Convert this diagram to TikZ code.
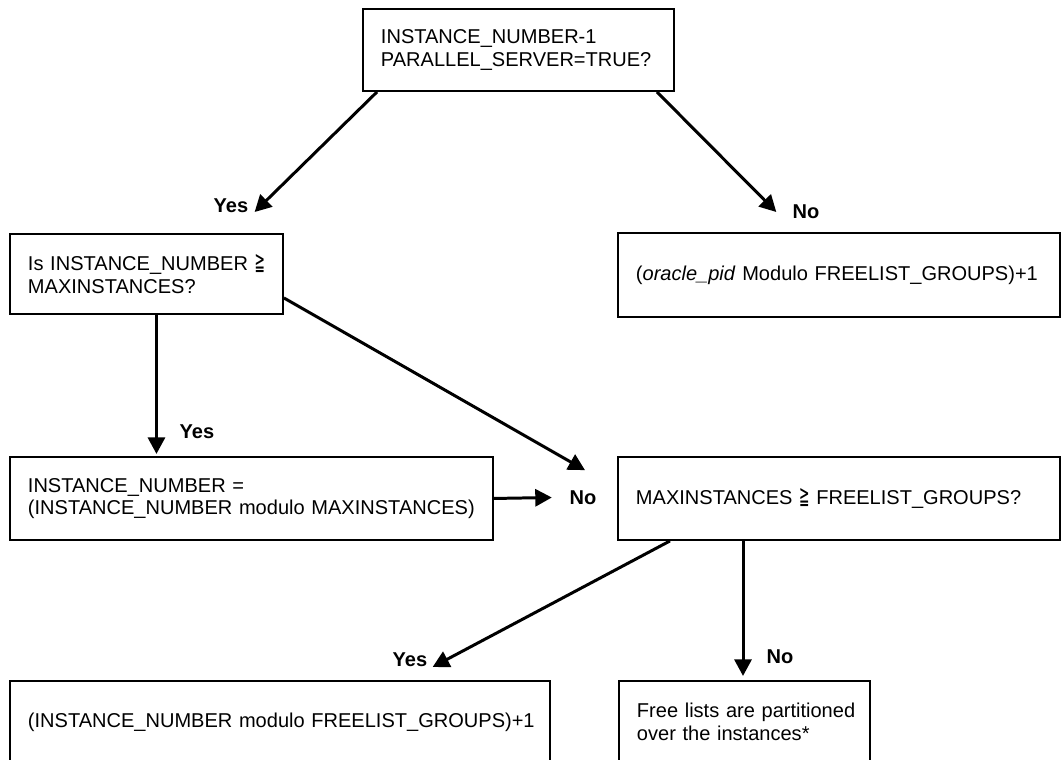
\documentclass[tikz,border=0pt]{standalone}
\usepackage{fontspec}
\setmainfont{Liberation Sans}
\newfontfamily\geqfont{DejaVu Sans}
\usetikzlibrary{arrows.meta}
\hyphenpenalty=10000
\newcommand{\boxfont}{\fontsize{11.4pt}{12.8pt}\selectfont}
\newcommand{\geqsign}{\scalebox{0.62}[1.25]{\geqfont ≧}}

\begin{document}
\begin{tikzpicture}[
    box/.style={draw, line width=1.1pt, anchor=north west, inner xsep=0.36cm,
        inner ysep=0pt, align=left, font=\boxfont},
    lbl/.style={font=\boxfont\bfseries, inner sep=0pt},
    arr/.style={line width=1.7pt, -{Triangle[length=0.33cm, width=0.34cm]}}
]
    \useasboundingbox (0,0) rectangle (21.28,15.18);
    \clip (0,0) rectangle (21.28,15.18);

    % boxes
    \node[box, text width=5.5cm, minimum height=1.64cm] (qparallel) at (7.24,15.02)
        {INSTANCE\_NUMBER-1\\PARALLEL\_SERVER=TRUE?};
    \node[box, text width=4.74cm, minimum height=1.6cm] (qmaxinst) at (0.18,10.52)
        {Is~INSTANCE\_NUMBER~\geqsign\\MAXINSTANCES?};
    \node[box, text width=8.12cm, minimum height=1.68cm] (oraclepid) at (12.34,10.54)
        {(\textit{oracle\_pid} Modulo FREELIST\_GROUPS)+1};
    \node[box, text width=8.94cm, minimum height=1.66cm] (setinst) at (0.18,6.06)
        {INSTANCE\_NUMBER =\\(INSTANCE\_NUMBER~modulo~MAXINSTANCES)};
    \node[box, text width=8.12cm, minimum height=1.66cm] (qgroups) at (12.34,6.06)
        {MAXINSTANCES \geqsign{} FREELIST\_GROUPS?};
    \node[box, text width=10.08cm, minimum height=1.64cm] (modgroups) at (0.18,1.58)
        {(INSTANCE\_NUMBER~modulo~FREELIST\_GROUPS)+1};
    \node[box, text width=4.3cm, minimum height=1.64cm] (partition) at (12.36,1.58)
        {Free~lists~are~partitioned\\over the instances*};

    % yes / no labels
    \node[lbl] (yesa) at (4.62,11.06) {Yes};
    \node[lbl] (noa) at (16.12,10.94) {No};
    \node[lbl] (yesb) at (3.94,6.54) {Yes};
    \node[lbl] (noc) at (11.66,5.23) {No};
    \node[lbl] (yesc) at (8.2,1.98) {Yes};
    \node[lbl] (nod) at (15.6,2.04) {No};

    % arrows
    \draw[arr] ([xshift=0.3cm]qparallel.south west) -- ([xshift=0.12cm,yshift=-0.12cm]yesa.east);
    \draw[arr] ([xshift=-0.36cm]qparallel.south east) -- ([xshift=-0.32cm]noa.west);
    \draw[arr] ([xshift=0.2cm]qmaxinst.south) -- ++(0,-2.78);
    \draw[arr] ([yshift=-0.48cm]qmaxinst.east) -- ([xshift=0.04cm,yshift=0.4cm]noc.north);
    \draw[arr] (setinst.east) -- ([xshift=-0.35cm]noc.west);
    \draw[arr] ([xshift=1.06cm]qgroups.south west) -- ([xshift=0.1cm,yshift=-0.14cm]yesc.east);
    \draw[arr] ([xshift=2.52cm]qgroups.south west) -- ++(0,-2.7);
\end{tikzpicture}
\end{document}
